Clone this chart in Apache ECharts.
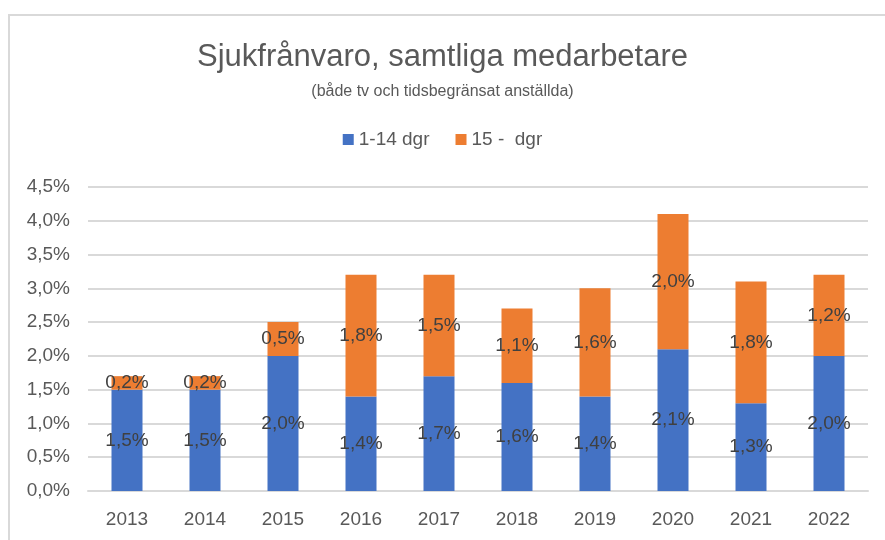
<!DOCTYPE html>
<html>
<head>
<meta charset="utf-8">
<script src="https://cdn.jsdelivr.net/npm/echarts@6/dist/echarts.min.js"></script>
<style>
  html, body { margin: 0; padding: 0; background: #fff; }
  #frame {
    position: absolute; left: 8px; top: 14px; width: 885px; height: 540px;
    border-left: 2px solid #d9d9d9; border-top: 2px solid #d9d9d9;
  }
  #chart { position: absolute; left: 0; top: 0; width: 885px; height: 540px; }
</style>
</head>
<body>
<div id="frame"></div>
<div id="chart"></div>
<script>
// data
const years = ['2013', '2014', '2015', '2016', '2017', '2018', '2019', '2020', '2021', '2022']
const shortTerm = [1.5, 1.5, 2.0, 1.4, 1.7, 1.6, 1.4, 2.1, 1.3, 2.0] // 1-14 dgr
const longTerm = [0.2, 0.2, 0.5, 1.8, 1.5, 1.1, 1.6, 2.0, 1.8, 1.2] // 15 - dgr
const yTicks = [0, 0.5, 1, 1.5, 2, 2.5, 3, 3.5, 4, 4.5]

const font = '"Liberation Sans", Arial, sans-serif'
const pct = (v) => v.toFixed(1).replace('.', ',') + '%'

const myChart = echarts.init(document.getElementById('chart'))

const option = {
  animation: false,
  textStyle: { fontFamily: font },
  title: [
    {
      text: 'Sjukfrånvaro, samtliga medarbetare',
      left: 'center',
      top: 37,
      textStyle: { fontSize: 31, fontWeight: 'normal', color: '#595959', fontFamily: font },
    },
    {
      text: '(både tv och tidsbegränsat anställda)',
      left: 'center',
      top: 79,
      textStyle: { fontSize: 16, fontWeight: 'normal', color: '#595959', fontFamily: font },
    },
  ],
  legend: {
    top: 125,
    left: 'center',
    itemWidth: 11,
    itemHeight: 11,
    itemGap: 26,
    icon: 'rect',
    textStyle: { fontSize: 19, color: '#595959' },
    data: ['1-14 dgr', '15 -  dgr'],
  },
  grid: { left: 88, right: 17, top: 187, bottom: 49 },
  xAxis: {
    type: 'category',
    data: years,
    axisLine: { lineStyle: { color: '#d9d9d9', width: 2 } },
    axisTick: { show: false },
    axisLabel: { fontSize: 19, color: '#595959', margin: 19 },
  },
  yAxis: {
    type: 'value',
    min: yTicks[0],
    max: yTicks[yTicks.length - 1],
    interval: 0.5,
    axisLine: { show: false },
    axisTick: { show: false },
    splitLine: { lineStyle: { color: '#d9d9d9', width: 2 } },
    axisLabel: { fontSize: 19, color: '#595959', margin: 18, formatter: (v) => pct(v) },
  },
  series: [
    {
      name: '1-14 dgr',
      type: 'bar',
      stack: 'total',
      data: shortTerm,
      barWidth: 31,
      itemStyle: { color: '#4472C4' },
      label: {
        show: true,
        position: 'inside',
        fontSize: 19,
        color: '#404040',
        formatter: (p) => pct(p.value),
      },
    },
    {
      name: '15 -  dgr',
      type: 'bar',
      stack: 'total',
      data: longTerm,
      barWidth: 31,
      itemStyle: { color: '#ED7D31' },
      label: {
        show: true,
        position: 'inside',
        fontSize: 19,
        color: '#404040',
        formatter: (p) => pct(p.value),
      },
    },
  ],
}

myChart.setOption(option)
</script>
</body>
</html>
